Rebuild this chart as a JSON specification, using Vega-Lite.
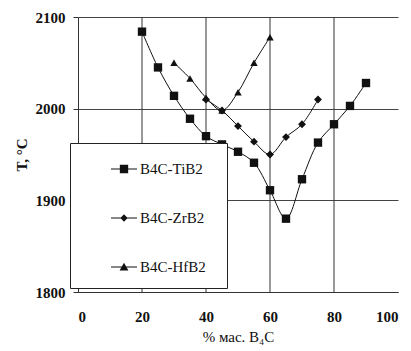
{
  "$schema": "https://vega.github.io/schema/vega-lite/v6.json",
  "width": 320,
  "height": 275,
  "autosize": {"type": "none"},
  "padding": {"left": 78, "top": 17, "right": 13, "bottom": 59},
  "background": "white",
  "config": {
    "view": {"stroke": null},
    "font": "Liberation Serif"
  },
  "datasets": {
    "curves": [
      {"series": "B4C-TiB2", "x": 20, "y": 2084},
      {"series": "B4C-TiB2", "x": 25, "y": 2045},
      {"series": "B4C-TiB2", "x": 30, "y": 2014},
      {"series": "B4C-TiB2", "x": 35, "y": 1989},
      {"series": "B4C-TiB2", "x": 40, "y": 1970},
      {"series": "B4C-TiB2", "x": 45, "y": 1961},
      {"series": "B4C-TiB2", "x": 50, "y": 1953},
      {"series": "B4C-TiB2", "x": 55, "y": 1941},
      {"series": "B4C-TiB2", "x": 60, "y": 1911},
      {"series": "B4C-TiB2", "x": 65, "y": 1880},
      {"series": "B4C-TiB2", "x": 70, "y": 1923},
      {"series": "B4C-TiB2", "x": 75, "y": 1963},
      {"series": "B4C-TiB2", "x": 80, "y": 1983},
      {"series": "B4C-TiB2", "x": 85, "y": 2003},
      {"series": "B4C-TiB2", "x": 90, "y": 2028},
      {"series": "B4C-ZrB2", "x": 40, "y": 2010},
      {"series": "B4C-ZrB2", "x": 45, "y": 1998},
      {"series": "B4C-ZrB2", "x": 50, "y": 1981},
      {"series": "B4C-ZrB2", "x": 55, "y": 1964},
      {"series": "B4C-ZrB2", "x": 60, "y": 1950},
      {"series": "B4C-ZrB2", "x": 65, "y": 1969},
      {"series": "B4C-ZrB2", "x": 70, "y": 1983},
      {"series": "B4C-ZrB2", "x": 75, "y": 2010},
      {"series": "B4C-HfB2", "x": 30, "y": 2050},
      {"series": "B4C-HfB2", "x": 35, "y": 2033},
      {"series": "B4C-HfB2", "x": 40, "y": 2012},
      {"series": "B4C-HfB2", "x": 45, "y": 1998},
      {"series": "B4C-HfB2", "x": 50, "y": 2018},
      {"series": "B4C-HfB2", "x": 55, "y": 2050},
      {"series": "B4C-HfB2", "x": 60, "y": 2078}
    ],
    "vgrid": [{"x": 20}, {"x": 40}, {"x": 60}, {"x": 80}]
  },
  "layer": [
    {
      "data": {"name": "vgrid"},
      "mark": {"type": "rule", "color": "#333", "strokeWidth": 1},
      "encoding": {
        "x": {"field": "x", "type": "quantitative"}
      }
    },
    {
      "data": {"name": "curves"},
      "mark": {"type": "line", "color": "#111", "strokeWidth": 1, "interpolate": "catmull-rom"},
      "encoding": {
        "x": {
          "field": "x", "type": "quantitative",
          "scale": {"domain": [0, 100], "nice": false, "zero": false},
          "axis": {
            "values": [0, 20, 40, 60, 80, 100],
            "title": "% мас. B₄C",
            "titleFont": "Liberation Serif", "titleFontSize": 15, "titleFontWeight": "normal", "titleColor": "#111",
            "titlePadding": 5,
            "labelFont": "Liberation Serif", "labelFontSize": 15, "labelFontWeight": "bold", "labelColor": "#111",
            "labelPadding": 17, "ticks": false,
            "domainColor": "#333", "domainWidth": 1,
            "grid": false
          }
        },
        "y": {
          "field": "y", "type": "quantitative",
          "scale": {"domain": [1800, 2100], "nice": false, "zero": false},
          "axis": {
            "values": [1800, 1900, 2000, 2100],
            "format": "d",
            "title": "T, °C",
            "titleFont": "Liberation Serif", "titleFontSize": 15, "titleFontWeight": "bold", "titleColor": "#111",
            "titlePadding": 6,
            "labelFont": "Liberation Serif", "labelFontSize": 15, "labelFontWeight": "bold", "labelColor": "#111",
            "labelPadding": 8, "tickSize": 5, "tickColor": "#333",
            "domainColor": "#333", "domainWidth": 1,
            "grid": true, "gridColor": "#444", "gridWidth": 1
          }
        },
        "detail": {"field": "series"}
      }
    },
    {
      "data": {"name": "curves"},
      "mark": {"type": "point", "filled": true, "color": "#111", "opacity": 1},
      "encoding": {
        "x": {"field": "x", "type": "quantitative"},
        "y": {"field": "y", "type": "quantitative"},
        "shape": {
          "field": "series",
          "scale": {"domain": ["B4C-TiB2", "B4C-ZrB2", "B4C-HfB2"], "range": ["square", "diamond", "triangle-up"]},
          "legend": null
        },
        "size": {
          "field": "series",
          "scale": {"domain": ["B4C-TiB2", "B4C-ZrB2", "B4C-HfB2"], "range": [70, 55, 75]},
          "legend": null
        }
      }
    },
    {
      "data": {"name": "curves"},
      "mark": {"type": "point", "filled": true, "color": "#111", "opacity": 0},
      "encoding": {
        "x": {"field": "x", "type": "quantitative"},
        "y": {"field": "y", "type": "quantitative"},
        "shape": {
          "field": "series",
          "scale": {
            "domain": ["B4C-TiB2", "B4C-ZrB2", "B4C-HfB2"],
            "range": [
              "M-1,-0.04H1V0.04H-1ZM-0.32,-0.32H0.32V0.32H-0.32Z",
              "M-1,-0.04H1V0.04H-1ZM0,-0.28L0.28,0L0,0.28L-0.28,0Z",
              "M-1,-0.04H1V0.04H-1ZM0,-0.32L0.34,0.26H-0.34Z"
            ]
          },
          "legend": {
            "title": "\u2003",
            "titleOrient": "right",
            "titlePadding": 8,
            "titleFontSize": 15,
            "orient": "none",
            "legendX": -8,
            "legendY": 126,
            "direction": "vertical",
            "fillColor": "white",
            "strokeColor": "#222",
            "padding": 13,
            "cornerRadius": 0,
            "symbolSize": 676,
            "symbolOffset": 28,
            "symbolFillColor": "#111",
            "symbolStrokeColor": "#111",
            "symbolStrokeWidth": 0,
            "symbolOpacity": 1,
            "rowPadding": 28,
            "labelOffset": 3,
            "labelFont": "Liberation Serif",
            "labelFontSize": 15,
            "labelColor": "#111",
            "encode": {
              "symbols": {
                "update": {
                  "fill": {"value": "#111"},
                  "opacity": {"value": 1}
                }
              }
            }
          }
        }
      }
    }
  ],
  "resolve": {"scale": {"shape": "independent"}}
}
